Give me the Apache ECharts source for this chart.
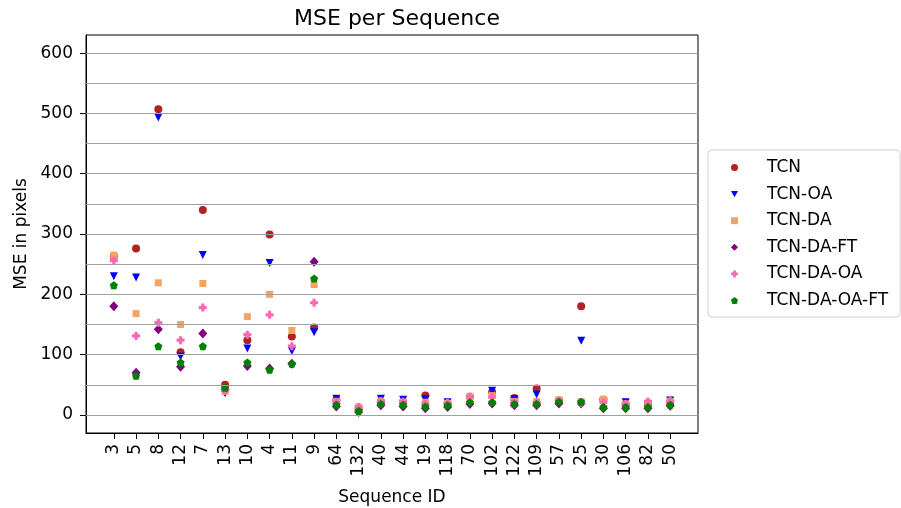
<!DOCTYPE html>
<html>
<head>
<meta charset="utf-8">
<script src="https://cdn.jsdelivr.net/npm/echarts@6/dist/echarts.min.js"></script>
<style>html,body{margin:0;padding:0;background:#fff}#c{width:901px;height:508px}</style>
</head>
<body>
<div id="c"></div>
<script>
const categories = ['3','5','8','12','7','13','10','4','11','9','64','132','40','44','19','118','70','102','122','109','57','25','30','106','82','50'];
const yTicks = [0,100,200,300,400,500,600];
const gridValues = [0,50,100,150,200,250,300,350,400,450,500,550,600];
const tcn      = [263,276,507,104,340,50,124,299,130,145,25,10,22,22,32,18,30,38,28,44,22,180,25,18,18,22];
const tcnOA    = [230,228,493,97,265,36,110,252,106,137,27,9,27,25,26,21,26,40,26,34,22,123,22,21,18,24];
const tcnDA    = [265,168,219,150,218,39,163,200,140,216,22,13,22,21,21,19,30,32,22,22,25,22,26,18,20,22];
const tcnDAFT  = [180,70,142,80,135,42,81,77,85,254,14,5,16,14,11,13,18,19,16,16,19,19,11,11,11,15];
const tcnDAOA  = [256,131,153,124,178,40,133,166,114,186,22,13,23,22,19,20,30,30,22,21,24,20,21,18,22,23];
const tcnDAOAFT= [215,65,114,87,114,45,87,75,85,226,17,7,18,17,14,16,21,21,18,18,22,22,13,13,13,17];

const FONT = 'DejaVu Sans';
const idx = categories.map((c,i)=>i);
function pts(arr){ return arr.map((v,i)=>[i,v]); }

const seriesDefs = [
  {name:'TCN', data:tcn, color:'#b22222', symbol:'circle', size:8},
  {name:'TCN-OA', data:tcnOA, color:'#0000ff', symbol:'path://M0,0 L10,0 L5,9 Z', size:[8,8]},
  {name:'TCN-DA', data:tcnDA, color:'#f4a460', symbol:'rect', size:7},
  {name:'TCN-DA-FT', data:tcnDAFT, color:'#800080', symbol:'diamond', size:[9,10]},
  {name:'TCN-DA-OA', data:tcnDAOA, color:'#ff69b4', symbol:'path://M3,0 H7 V3 H10 V7 H7 V10 H3 V7 H0 V3 H3 Z', size:8},
  {name:'TCN-DA-OA-FT', data:tcnDAOAFT, color:'#008000', symbol:'path://M5,0 L10,3.8 L8.1,10 L1.9,10 L0,3.8 Z', size:8}
];

const series = seriesDefs.map(d=>({
  name:d.name, type:'scatter', data:pts(d.data),
  symbol:d.symbol, symbolSize:d.size,
  itemStyle:{color:d.color, opacity:1},
  emphasis:{disabled:true}, animation:false
}));
// grid lines drawn through the y scale
series.unshift({
  name:'_grid', type:'scatter', data:[], silent:true, animation:false,
  markLine:{silent:true, symbol:'none', animation:false, label:{show:false},
    lineStyle:{color:'#a0a0a0', width:1, type:'solid'},
    data:gridValues.map(v=>({yAxis:v}))}
});

const chart = echarts.init(document.getElementById('c'), null, {renderer:'canvas'});
chart.setOption({
  animation:false,
  backgroundColor:'#fff',
  title:{text:'MSE per Sequence', left:392, top:3, textAlign:'center',
    textStyle:{fontFamily:FONT, fontSize:22, fontWeight:'normal', color:'#000'}},
  grid:{left:86, right:203, top:35, bottom:75, containLabel:false, outerBoundsMode:'none',
    show:true, borderColor:'#000', borderWidth:1, backgroundColor:'transparent'},
  legend:{
    orient:'vertical', left:708, top:150, width:200,
    data:seriesDefs.map(d=>d.name),
    itemWidth:7, itemHeight:7, itemGap:9.6,
    padding:[9,12,8,23],
    borderColor:'#d0d0d0', borderWidth:1, borderRadius:4,
    textStyle:{fontFamily:FONT, fontSize:17, lineHeight:17, color:'#000', padding:[0,0,0,24]}
  },
  xAxis:{
    type:'value', min:-1.25, max:26.25,
    name:'Sequence ID', nameLocation:'middle', nameGap:56,
    nameTextStyle:{fontFamily:FONT, fontSize:17, color:'#000'},
    axisLine:{show:true, onZero:false, lineStyle:{color:'#000'}},
    axisTick:{show:true, customValues:idx, length:6, lineStyle:{color:'#000'}},
    axisLabel:{show:true, customValues:idx, rotate:90, margin:11,
      fontFamily:FONT, fontSize:17, color:'#000',
      formatter:v=>categories[Math.round(v)]},
    splitLine:{show:false}
  },
  yAxis:{
    type:'value', min:-30, max:630,
    name:'MSE in pixels', nameLocation:'middle', nameGap:56, nameRotate:90,
    nameTextStyle:{fontFamily:FONT, fontSize:17, color:'#000'},
    axisLine:{show:true, onZero:false, lineStyle:{color:'#000'}},
    axisTick:{show:true, customValues:yTicks, length:6, lineStyle:{color:'#000'}},
    axisLabel:{show:true, customValues:yTicks, margin:13, fontFamily:FONT, fontSize:17, color:'#000'},
    splitLine:{show:false}
  },
  series:series
});
</script>
</body>
</html>
